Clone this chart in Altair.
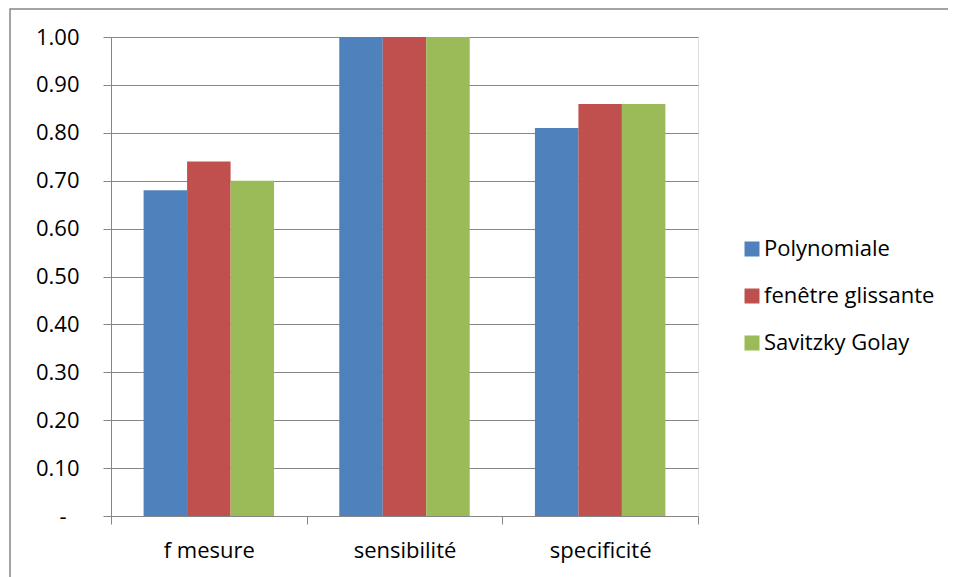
import altair as alt
import pandas as pd

categories = ["f mesure", "sensibilité", "specificité"]
series = ["Polynomiale", "fenêtre glissante", "Savitzky Golay"]
polynomiale = [0.68, 1.00, 0.81]
fenetre = [0.74, 1.00, 0.86]
savitzky = [0.70, 1.00, 0.86]
colors = ["#4F81BD", "#C0504D", "#9BBB59"]
y_ticks = [0, 0.1, 0.2, 0.3, 0.4, 0.5, 0.6, 0.7, 0.8, 0.9, 1.0]

rows = []
for s, vals in zip(series, [polynomiale, fenetre, savitzky]):
    for c, v in zip(categories, vals):
        rows.append({"cat": c, "serie": s, "val": v})
df = pd.DataFrame(rows)

FONT = "Open Sans"
FS = 22
W, H = 587, 479

bars = alt.Chart(df).mark_bar(size=43.5).encode(
    x=alt.X("cat:N", sort=categories, title=None,
            scale=alt.Scale(paddingInner=0, paddingOuter=0),
            axis=alt.Axis(labelAngle=0, tickBand="extent", tickSize=8,
                          domainColor="#868686", tickColor="#868686",
                          labelFont=FONT, labelFontSize=FS, labelColor="#000000",
                          labelPadding=16, grid=False)),
    xOffset=alt.XOffset("serie:N", sort=series,
                        scale=alt.Scale(paddingInner=0, paddingOuter=0.75)),
    y=alt.Y("val:Q", title=None,
            scale=alt.Scale(domain=[0, 1], nice=False),
            axis=alt.Axis(values=y_ticks, tickSize=8,
                          labelExpr="datum.value == 0 ? '-' : format(datum.value, '.2f')",
                          domainColor="#868686", tickColor="#868686",
                          gridColor="#868686", gridWidth=1,
                          labelFont=FONT, labelFontSize=FS, labelColor="#000000",
                          labelPadding={"condition": {"test": "datum.value == 0", "value": 37},
                                        "value": 24})),
    color=alt.Color("serie:N", sort=series,
                    scale=alt.Scale(domain=series, range=colors),
                    legend=alt.Legend(title=None, orient="none", legendX=630, legendY=201,
                                      symbolType="square", symbolSize=225,
                                      symbolStrokeWidth=0, labelFont=FONT,
                                      labelFontSize=FS, labelColor="#000000",
                                      labelLimit=400,
                                      rowPadding=25, labelOffset=1)),
)

border = alt.Chart(pd.DataFrame({"a": [0]})).mark_rect(
    fill=None, stroke="#868686", strokeWidth=1.5
).encode(
    x=alt.value(-101), x2=alt.value(870), y=alt.value(-28), y2=alt.value(600)
)

chart = alt.layer(bars, border).properties(
    width=W, height=H,
    autosize=alt.AutoSizeParams(type="none"),
    padding={"left": 103, "top": 29, "right": 250, "bottom": 70},
).configure_view(stroke=None).configure(background="white")

chart.save("out.html", embed_options={"renderer": "svg", "actions": False})
